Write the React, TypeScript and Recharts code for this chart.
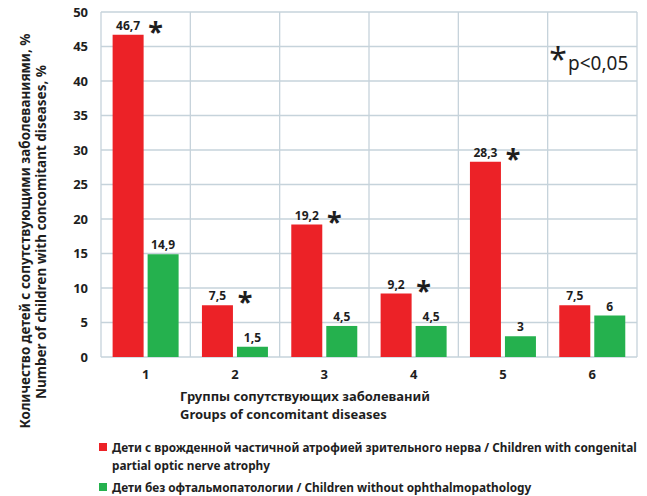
import { BarChart, Bar, XAxis, YAxis, CartesianGrid, Legend, LabelList, Label, Customized } from 'recharts'

const groups = ['1', '2', '3', '4', '5', '6']
const atrophy = [46.7, 7.5, 19.2, 9.2, 28.3, 7.5]
const healthy = [14.9, 1.5, 4.5, 4.5, 3, 6]
const significant = [true, true, true, true, true, false]
const yTicks = [0, 5, 10, 15, 20, 25, 30, 35, 40, 45, 50]

const RED = '#ec2227'
const GREEN = '#25b14e'
const INK = '#1e1e1e'
const FONT = '"Noto Sans", sans-serif'

const data = groups.map((g, i) => ({
  group: g,
  atrophy: atrophy[i],
  healthy: healthy[i],
  sig: significant[i],
}))

const fmt = (v: unknown) => String(v).replace('.', ',')

// asterisk to the right of the red bar when the difference is significant
const Star = (props: any) => {
  const { x, y, width, value } = props
  if (!value) return null
  return (
    <text x={x + width + 12} y={y + 7} textAnchor="middle" fontSize={27} fontWeight={700} fill={INK} fontFamily={FONT}>
      *
    </text>
  )
}

const YTitle = () => (
  <g fontFamily={FONT} fontSize={13.5} fontWeight={700} fill={INK} textAnchor="middle">
    <text transform="translate(30,231) rotate(-90)">Количество детей с сопутствующими заболеваниями, %</text>
    <text transform="translate(46,232) rotate(-90)">Number of children with concomitant diseases, %</text>
  </g>
)

const XTitle = () => (
  <g fontFamily={FONT} fontSize={13} fontWeight={700} fill={INK}>
    <text x={180} y={401}>Группы сопутствующих заболеваний</text>
    <text x={180} y={419}>Groups of concomitant diseases</text>
  </g>
)

const PNote = () => (
  <g fontFamily={FONT} fill={INK}>
    <text x={558} y={71} fontSize={32} textAnchor="middle">*</text>
    <text x={568} y={70} fontSize={19}>p&lt;0,05</text>
  </g>
)

const square = (color: string) => (
  <span style={{ display: 'inline-block', width: 8, height: 8, background: color, marginRight: 5, marginTop: 5, flex: 'none' }} />
)

const LegendBox = () => (
  <div style={{ fontFamily: FONT, fontSize: 11.8, fontWeight: 700, color: INK, lineHeight: '18px', whiteSpace: 'nowrap' }}>
    <div style={{ display: 'flex', alignItems: 'flex-start' }}>
      {square(RED)}
      <span>
        Дети с врожденной частичной атрофией зрительного нерва / Children with congenital
        <br />
        partial optic nerve atrophy
      </span>
    </div>
    <div style={{ display: 'flex', alignItems: 'flex-start', marginTop: 4 }}>
      {square(GREEN)}
      <span>Дети без офтальмопатологии / Children without ophthalmopathology</span>
    </div>
  </div>
)

export default function App() {
  return (
    <div style={{ position: 'absolute', left: 0, top: 0, background: '#fff' }}>
      <BarChart
        width={647}
        height={496}
        data={data}
        margin={{ top: 12, right: 10, left: 0, bottom: 0 }}
        barCategoryGap="13%"
        barGap={4}
      >
        <CartesianGrid
          stroke="#c6d3db"
          strokeWidth={1.3}
          verticalCoordinatesGenerator={({ offset }: any) =>
            Array.from({ length: groups.length + 1 }, (_, i) => offset.left + (i * offset.width) / groups.length)
          }
        />
        <XAxis
          dataKey="group"
          height={81}
          axisLine={false}
          tickLine={false}
          tickMargin={7}
          tick={{ fontSize: 13, fontWeight: 700, fill: INK, fontFamily: FONT }}
        >
          <Label content={XTitle} />
        </XAxis>
        <YAxis
          width={101}
          domain={[0, 50]}
          ticks={yTicks}
          axisLine={false}
          tickLine={false}
          tickMargin={7}
          tick={{ fontSize: 13, fontWeight: 700, fill: INK, fontFamily: FONT }}
        >
          <Label content={YTitle} />
        </YAxis>
        <Legend content={LegendBox} wrapperStyle={{ left: 99, top: 438, width: 545, height: 58 }} />
        <Bar dataKey="atrophy" fill={RED} isAnimationActive={false}>
          <LabelList dataKey="atrophy" position="top" offset={5} formatter={fmt} fontSize={12} fontWeight={700} fill={INK} fontFamily={FONT} />
          <LabelList dataKey="sig" content={Star} />
        </Bar>
        <Bar dataKey="healthy" fill={GREEN} isAnimationActive={false}>
          <LabelList dataKey="healthy" position="top" offset={5} formatter={fmt} fontSize={12} fontWeight={700} fill={INK} fontFamily={FONT} />
        </Bar>
        <Customized component={PNote} />
      </BarChart>
    </div>
  )
}
